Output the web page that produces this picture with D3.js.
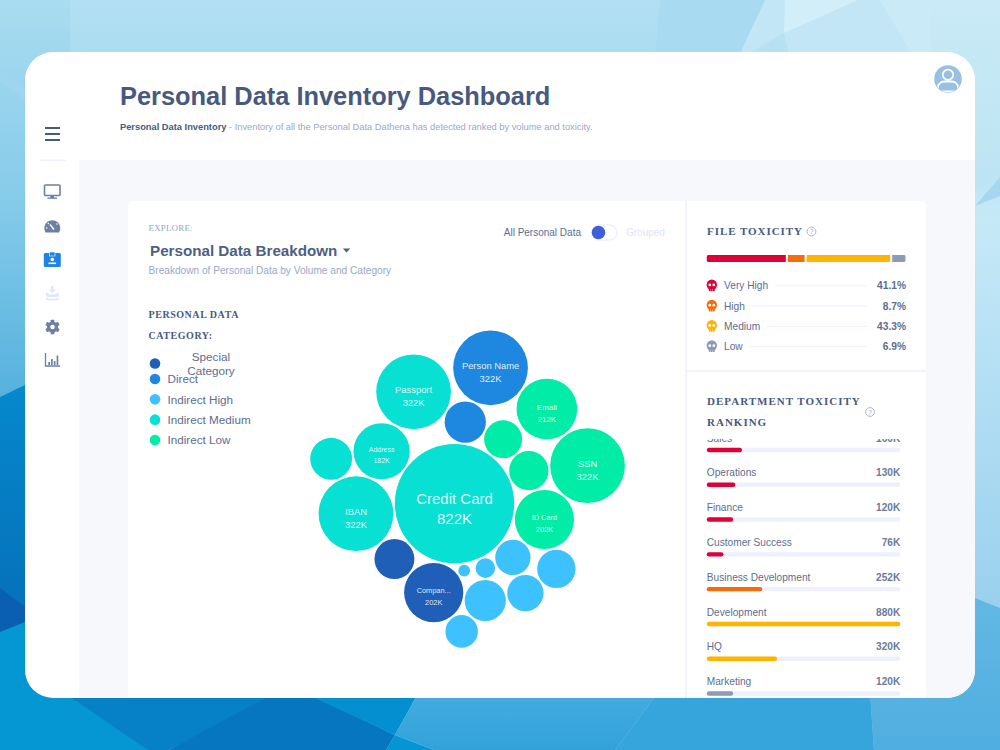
<!DOCTYPE html>
<html><head><meta charset="utf-8">
<script src="https://cdnjs.cloudflare.com/ajax/libs/d3/7.8.5/d3.min.js"></script>
<style>html,body{margin:0;padding:0;background:#fff}svg{display:block}text{font-family:"Liberation Sans",Arial,sans-serif}</style>
</head><body><svg id="c" width="1000" height="750" viewBox="0 0 1000 750"></svg>
<script>
// ---- data ----
const bubbleIds   = ["credit","blue2","person","g1","email","g2","ssn","idcard","l1","l2","l3","l4","l5","l6","l7","company","dark2","iban","teal2","address","passport"];
const bubbleNames = ["Credit Card","","Person Name","","Email","","SSN","ID Card","","","","","","","","Compan...","","IBAN","","Address","Passport"];
const bubbleValues= [822,98,322,83,212,89,322,202,85,72,76,22,98,8,61,202,92,322,101,182,322];
const bubbleCats  = ["Indirect Medium","Direct","Direct","Indirect Low","Indirect Low","Indirect Low","Indirect Low","Indirect Low","Indirect High","Indirect High","Indirect High","Indirect High","Indirect High","Indirect High","Indirect High","Special Category","Special Category","Indirect Medium","Indirect Medium","Indirect Medium","Indirect Medium"];
const contacts = [["credit","iban"],["credit","address"],["credit","blue2"],["credit","g1"],["credit","g2"],["credit","idcard"],["credit","l2"],["credit","l4"],["credit","l6"],["credit","company"],["credit","dark2"],
["passport","address"],["passport","blue2"],["person","blue2"],["person","email"],["blue2","g1"],["g1","g2"],["email","ssn"],["g2","ssn"],["ssn","idcard"],["g2","idcard"],["idcard","l2"],["idcard","l1"],["l2","l3"],["l1","l3"],["l3","l5"],["l5","l4"],["l4","l2"],["l5","company"],["l5","l7"],["company","l7"],["company","dark2"],["dark2","iban"],["address","iban"],["teal2","address"],["teal2","iban"],["company","l6"],
["passport","person",5.8],["g1","email",4],["l4","l6",5.6]];
const categories = ["Special Category","Direct","Indirect High","Indirect Medium","Indirect Low"];
const categoryColors = ["#1f5fb8","#1e88e0","#3ec1ff","#07e0d2","#01eca7"];
const toxLevels = ["Very High","High","Medium","Low"];
const toxShares = [41.1,8.7,43.3,6.9];
const toxColors = ["#e00038","#f26d0e","#ffb400","#8d9ab8"];
const departments = ["Sales","Operations","Finance","Customer Success","Business Development","Development","HQ","Marketing"];
const deptValues  = [160,130,120,76,252,880,320,120];
const deptLevels  = ["Very High","Very High","Very High","Very High","High","Medium","Medium","Low"];

const svg = d3.select("#c"), defs = svg.append("defs");
const INK="#47597e", BODY="#5d6d90", MUTED="#9aa8c4", LINE="#eef1fb", SERIF='"Liberation Serif",serif';
function txt(p,x,y,s,size,fill,o={}){const t=p.append("text").attr("x",x).attr("y",y).attr("font-size",size).attr("fill",fill).text(s);
  if(o.w)t.attr("font-weight",o.w); if(o.a)t.attr("text-anchor",o.a); if(o.f)t.style("font-family",o.f); if(o.ls)t.attr("letter-spacing",o.ls); return t;}
function grad(id,y1,y2,stops){const g=defs.append("linearGradient").attr("id",id).attr("gradientUnits","userSpaceOnUse").attr("x1",0).attr("y1",y1).attr("x2",0).attr("y2",y2);
  stops.forEach(s=>g.append("stop").attr("offset",s[0]).attr("stop-color",s[1]));}

// ---- backdrop ----
grad("bg",0,60,[[0,"#b2dff3"],[1,"#aadcf1"]]);
grad("bgl",0,397,[[0,"#a9dcf0"],[.5,"#86cbea"],[1,"#55b1de"]]);
grad("bgd",385,625,[[0,"#0589cc"],[1,"#056fba"]]);
grad("bgr",0,600,[[0,"#c9eaf6"],[.3,"#bde4f3"],[.36,"#c6e9f7"],[1,"#9bd1ee"]]);
grad("bgb",598,750,[[0,"#62b8e3"],[1,"#50aee0"]]);
grad("bgm",698,750,[[0,"#42abdf"],[1,"#31a2d9"]]);
svg.append("rect").attr("width",1000).attr("height",750).attr("fill","url(#bg)");
const facets=[
 ["0,0 70,0 70,390 0,397","url(#bgl)"],
 ["0,70 25,88 25,100 0,81","#9fd5ee"],
 ["0,397 25,385 70,385 70,700 0,700","url(#bgd)"],
 ["0,588 25,607 25,622 0,632","#0a5fb3"],
 ["0,632 25,622 70,622 70,700 0,700","#0497d3"],
 ["0,690 80,690 148,750 0,750","#0497d3"],
 ["60,690 290,690 169,750 148,750","#0680c6"],
 ["280,690 300,690 395,735 386,750 169,750","#0576bf"],
 ["297,690 420,690 395,735","#0490d0"],
 ["395,735 434,750 386,750","#0496d3"],
 ["420,690 660,690 615,750 434,750 395,735","url(#bgm)"],
 ["660,690 870,690 874,750 615,750","#36a5db"],
 ["866,640 1000,640 1000,750 874,750","url(#bgb)"],
 ["660,0 765,0 737,60 655,60","#a8daf1"],
 ["765,0 1000,0 1000,60 737,60","#c2e6f5"],
 ["785,0 858,0 784,33","#d2eef9"],
 ["784,33 737,60 790,60","#b7e0f2"],
 ["880,0 976,0 944,60 915,60","#c9eaf6"],
 ["930,0 1000,0 1000,610 930,600","url(#bgr)"],
 ["975,206 1000,177 1000,196","#a5d8ee"],
 ["930,598 975,598 1000,608 1000,750 930,750","url(#bgb)"]];
svg.append("g").selectAll("polygon").data(facets).join("polygon").attr("points",d=>d[0]).attr("fill",d=>d[1]);

// ---- panel ----
defs.append("clipPath").attr("id","pc").append("rect").attr("x",25).attr("y",52).attr("width",950).attr("height",646).attr("rx",28);
const panel=svg.append("g").attr("clip-path","url(#pc)");
panel.append("rect").attr("x",25).attr("y",52).attr("width",950).attr("height",646).attr("fill","#fff");
panel.append("rect").attr("x",79).attr("y",160).attr("width",896).attr("height",538).attr("fill","#f6f8fc");
panel.append("rect").attr("x",128).attr("y",201).attr("width",798).attr("height",520).attr("rx",5).attr("fill","#fff");
panel.append("rect").attr("x",685).attr("y",201).attr("width",2).attr("height",497).attr("fill","#f2f4fc");
panel.append("rect").attr("x",687).attr("y",370).attr("width",239).attr("height",2).attr("fill","#f2f4fc");

// header
txt(svg,120,105,"Personal Data Inventory Dashboard",25.4,INK,{w:"bold"});
const sub=txt(svg,120,130,"",9.3,MUTED);
sub.append("tspan").attr("font-weight","bold").attr("fill",INK).text("Personal Data Inventory");
sub.append("tspan").text(" - Inventory of all the Personal Data Dathena has detected ranked by volume and toxicity.");
// avatar
const av=svg.append("g").attr("transform","translate(948,79)");
defs.append("clipPath").attr("id","avc").append("circle").attr("r",13.2);
av.append("circle").attr("r",13.8).attr("fill","#98c0e2");
const avi=av.append("g").attr("clip-path","url(#avc)");
avi.append("circle").attr("cy",-4.2).attr("r",5.2).attr("fill","none").attr("stroke","#fff").attr("stroke-width",1.8);
avi.append("path").attr("d","M-10 14v-6a6.5 5.5 0 0 1 6.5-5.5h7a6.5 5.5 0 0 1 6.5 5.5v6").attr("fill","none").attr("stroke","#fff").attr("stroke-width",1.8);
avi.append("rect").attr("x",-14).attr("y",11.5).attr("width",28).attr("height",3).attr("fill","#fff");

// sidebar
const side=svg.append("g").attr("fill","#6d7fa3");
[128,134,140].forEach(y=>side.append("rect").attr("x",45).attr("y",y-1).attr("width",15).attr("height",2).attr("fill",INK));
side.append("rect").attr("x",40).attr("y",159.5).attr("width",26).attr("height",1.5).attr("fill","#eff2f9");
// monitor
side.append("rect").attr("x",44.5).attr("y",185).attr("width",15.5).attr("height",10.5).attr("rx",1).attr("fill","none").attr("stroke","#6d7fa3").attr("stroke-width",1.6);
side.append("rect").attr("x",50.5).attr("y",196).attr("width",3.5).attr("height",2);
side.append("rect").attr("x",47.5).attr("y",197.5).attr("width",9.5).attr("height",1.3);
// gauge
side.append("path").attr("d","M45.6 232.5a8 8 0 1 1 13.4 0z");
side.append("line").attr("x1",50).attr("y1",224.5).attr("x2",54).attr("y2",229.5).attr("stroke","#fff").attr("stroke-width",1.4);
[[46.8,228],[48.3,223.5],[57,224]].forEach(p=>side.append("circle").attr("cx",p[0]).attr("cy",p[1]).attr("r",.8).attr("fill","#fff"));
// badge
side.append("rect").attr("x",43.8).attr("y",253).attr("width",17).attr("height",14).attr("rx",1.5).attr("fill","#1e82e6");
side.append("rect").attr("x",49.5).attr("y",252).attr("width",5.5).attr("height",4).attr("fill","#1e82e6").attr("stroke","#fff").attr("stroke-width",.6);
side.append("circle").attr("cx",52.3).attr("cy",259.5).attr("r",1.8).attr("fill","#fff");
side.append("rect").attr("x",48.5).attr("y",262.5).attr("width",7.6).attr("height",1.6).attr("fill","#fff");
// tray
side.append("path").attr("fill","#dfe6f5").attr("d","M51 286h2.6v3.5h2.4l-3.7 3.6-3.7-3.6h2.4zM46 292l3 2.5h6.6l3-2.5v3.5c0 1-2 1.5-6.3 1.5s-6.3-.5-6.3-1.5zM46 297.5c1.5 1 3.5 1.3 6.3 1.3s4.8-.3 6.3-1.3v1.6c0 1-2 1.4-6.3 1.4s-6.3-.4-6.3-1.4z");
// gear
const gear=side.append("g").attr("transform","translate(52.5,327)");
d3.range(3).forEach(i=>gear.append("rect").attr("x",-1.8).attr("y",-7.3).attr("width",3.6).attr("height",14.6).attr("rx",.6).attr("transform",`rotate(${i*60})`));
gear.append("circle").attr("r",5.6); gear.append("circle").attr("r",2.3).attr("fill","#fff");
// chart
side.append("path").attr("fill","none").attr("stroke","#6d7fa3").attr("stroke-width",1.3).attr("d","M45.5 353v13h14.5");
[[48.3,362,3],[51,359,6],[53.8,361,4],[56.6,355.5,9.5]].forEach(b=>side.append("rect").attr("x",b[0]).attr("y",b[1]).attr("width",1.7).attr("height",b[2]));

// explore header
txt(svg,148.5,231,"EXPLORE:",9,"#9aa5c0",{f:SERIF,ls:.15});
txt(svg,150,255.5,"Personal Data Breakdown",15.2,"#4d5f85",{w:"bold"});
svg.append("path").attr("d","M342.8 248.5h7.5l-3.75 4z").attr("fill","#4d5f85");
txt(svg,148.5,274,"Breakdown of Personal Data by Volume and Category",10.15,MUTED);
txt(svg,581,236,"All Personal Data",10,BODY,{a:"end"});
svg.append("rect").attr("x",591.5).attr("y",225).attr("width",25.5).attr("height",15).attr("rx",7.5).attr("fill","#fff").attr("stroke","#eef1fd").attr("stroke-width",1.5);
svg.append("circle").attr("cx",598.5).attr("cy",232.5).attr("r",6.8).attr("fill","#3f5fd6");
txt(svg,626,236,"Grouped",10,"#dfe4f5");

// legend
txt(svg,148.5,318,"PERSONAL DATA",10,INK,{w:"bold",f:SERIF,ls:.55});
txt(svg,148.5,339,"CATEGORY:",10,INK,{w:"bold",f:SERIF,ls:.55});
const legY=d3.scalePoint().domain(categories.slice(1)).range([379,440]);
const cat=d3.scaleOrdinal(categories,categoryColors);
categories.forEach(c=>{
  const y=c==="Special Category"?363.5:legY(c);
  svg.append("circle").attr("cx",155).attr("cy",y).attr("r",5.3).attr("fill",cat(c));
  if(c==="Special Category"){
    txt(svg,211,361,"Special",11.7,BODY,{a:"middle"}); txt(svg,211,375,"Category",11.7,BODY,{a:"middle"});
  } else txt(svg,167.5,y+4.2,c,11.7,BODY);
});

// ---- bubbles: radius from value, position from a force layout of touching pairs ----
const r=d3.scaleSqrt().domain([0,822]).range([0,59.7]);
const touchesCentre=new Set(contacts.filter(p=>p[0]==="credit").map(p=>p[1]));
const nodes=bubbleIds.map((id,i)=>{
  const o={id,name:bubbleNames[i],value:bubbleValues[i],cat:bubbleCats[i],r:r(bubbleValues[i])};
  if(i===0){o.fx=0;o.fy=0;}
  else{const a=2*Math.PI*(i-1)/(bubbleIds.length-1),R=59.7+o.r+2+(touchesCentre.has(id)?0:45);o.x=R*Math.sin(a);o.y=-R*Math.cos(a);}
  return o;});
const byId=new Map(nodes.map(n=>[n.id,n]));
const links=contacts.map(p=>({source:p[0],target:p[1],gap:p[2]===undefined?2:p[2]}));
const sim=d3.forceSimulation(nodes)
 .force("link",d3.forceLink(links).id(d=>d.id).distance(l=>byId.get(l.source.id||l.source).r+byId.get(l.target.id||l.target).r+l.gap).strength(.8).iterations(10))
 .force("collide",d3.forceCollide(d=>d.r+.9).iterations(4))
 .alphaDecay(.002).velocityDecay(.35).stop();
sim.tick(2500);
// settle orientation: SSN bearing from the centre bubble
const ssn=byId.get("ssn"), rot=Math.atan2(-38,132.8)-Math.atan2(ssn.y,ssn.x);
const cx=454.5, cy=503.7;
nodes.forEach(n=>{const x=n.x,y=n.y;n.px=cx+x*Math.cos(rot)-y*Math.sin(rot);n.py=cy+x*Math.sin(rot)+y*Math.cos(rot);});
const fs=d3.scaleLinear().domain([182,202,212,322,822]).range([7,7.4,7.9,9.4,15]);
const off=d3.scaleLinear().domain([182,322,822]).range([-2.2,-2.2,-4.7]);
const off2=d3.scaleLinear().domain([182,322,822]).range([9.6,11,15.3]);
const g=svg.append("g").selectAll("g").data(nodes).join("g").attr("transform",d=>`translate(${d.px},${d.py})`);
g.append("circle").attr("r",d=>d.r).attr("fill",d=>cat(d.cat));
g.filter(d=>d.name).each(function(d){
  const s=d3.select(this),f=fs(d.value),va=d.value+"K";
  txt(s,0,off(d.value)+f*.35,d.name,f,"#fff",{a:"middle"}).attr("fill-opacity",.88);
  txt(s,0,off2(d.value)+f*.35,va,f,"#fff",{a:"middle"}).attr("fill-opacity",.88);
});

// ---- file toxicity ----
function qmark(x,y){svg.append("circle").attr("cx",x).attr("cy",y).attr("r",4.4).attr("fill","none").attr("stroke",MUTED).attr("stroke-width",.8);
  txt(svg,x,y+2.5,"?",7,MUTED,{a:"middle"});}
txt(svg,707,235,"FILE TOXICITY",11,INK,{w:"bold",f:SERIF,ls:.95});
qmark(811.5,231.5);
const tx=d3.scaleLinear().domain([0,100]).range([0,193]);
let acc=0;
defs.append("clipPath").attr("id","sb").append("rect").attr("x",706.5).attr("y",255).attr("width",199.5).attr("height",7).attr("rx",2);
const sb=svg.append("g").attr("clip-path","url(#sb)");
toxShares.forEach((v,i)=>{sb.append("rect").attr("x",706.5+tx(acc)+i*2).attr("y",255).attr("width",tx(v)).attr("height",7).attr("fill",toxColors[i]);acc+=v;});
const ry=d3.scalePoint().domain(toxLevels).range([285.7,346.5]);
toxLevels.forEach((n,i)=>{
  const y=ry(n), sk=svg.append("g").attr("transform",`translate(711.8,${y})`).attr("fill",toxColors[i]);
  sk.append("circle").attr("cy",-1).attr("r",5.2);
  sk.append("rect").attr("x",-3).attr("y",1.5).attr("width",6).attr("height",4).attr("rx",1);
  sk.append("circle").attr("cx",-2).attr("cy",-.8).attr("r",1.35).attr("fill","#fff");
  sk.append("circle").attr("cx",2).attr("cy",-.8).attr("r",1.35).attr("fill","#fff");
  [-1,1].forEach(dx=>sk.append("rect").attr("x",dx-.2).attr("y",3.5).attr("width",.4).attr("height",2).attr("fill","#fff"));
  const t=txt(svg,724,y+3.7,n,10.2,BODY);
  const w=t.node().getComputedTextLength();
  svg.append("rect").attr("x",724+w+7).attr("y",y-.4).attr("width",866.5-(724+w+7)).attr("height",1).attr("fill",LINE);
  txt(svg,906,y+3.7,d3.format(".1f")(toxShares[i])+"%",10.2,BODY,{a:"end",w:"bold"});
});

// ---- department ranking ----
txt(svg,707,405,"DEPARTMENT TOXICITY",11,INK,{w:"bold",f:SERIF,ls:1});
txt(svg,707,425.5,"RANKING",11,INK,{w:"bold",f:SERIF,ls:1});
qmark(870,412);
defs.append("clipPath").attr("id","dc").append("rect").attr("x",690).attr("y",439).attr("width",236).attr("height",259);
const dep=svg.append("g").attr("clip-path","url(#dc)");
const dy=d3.scalePoint().domain(departments).range([450,693.5]);
const dx=d3.scaleLinear().domain([0,880]).range([0,193.5]);
const lvl=d3.scaleOrdinal(toxLevels,toxColors);
const rows=dep.selectAll("g").data(departments).join("g").attr("transform",d=>`translate(706.8,${dy(d)})`);
rows.append("rect").attr("y",-2.2).attr("width",193.5).attr("height",4.4).attr("rx",2.2).attr("fill","#eef1fd");
rows.append("rect").attr("y",-2.2).attr("width",(d,i)=>dx(deptValues[i])).attr("height",4.4).attr("rx",2.2).attr("fill",(d,i)=>lvl(deptLevels[i]));
rows.append("text").attr("y",-8.3).attr("font-size",10.15).attr("fill",BODY).text(d=>d);
rows.append("text").attr("x",193.5).attr("y",-8.3).attr("text-anchor","end").attr("font-size",10.15).attr("font-weight","bold").attr("fill","#6a7a9c").text((d,i)=>deptValues[i]+"K");
</script></body></html>
